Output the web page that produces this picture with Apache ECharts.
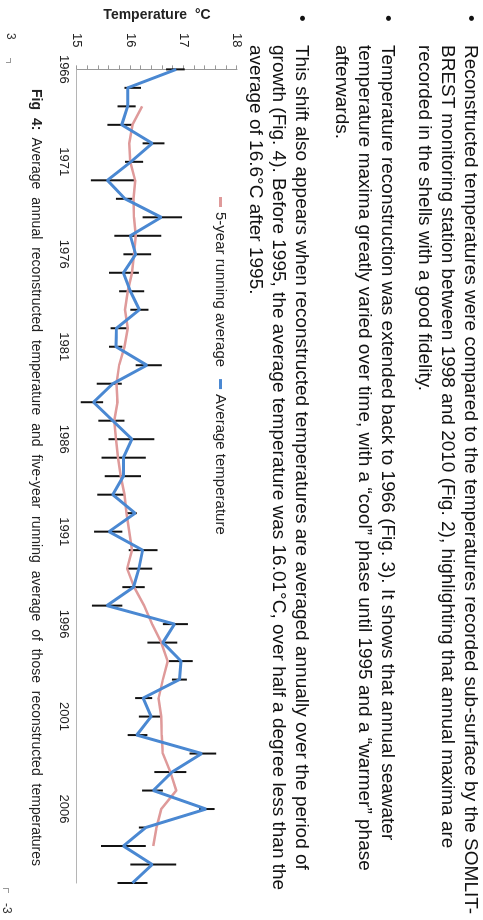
<!DOCTYPE html>
<html>
<head>
<meta charset="utf-8">
<script src="https://cdn.jsdelivr.net/npm/echarts@6/dist/echarts.min.js"></script>
<style>
html,body{margin:0;padding:0;width:483px;height:920px;overflow:hidden;background:#fff}
#page{position:absolute;left:0;top:0;width:920px;height:483px;transform-origin:0 0;transform:translate(483px,0) rotate(90deg);font-family:"Liberation Sans",Arial,Helvetica,sans-serif;color:#111;background:#fff}
#chart{position:absolute;left:0;top:0;width:920px;height:483px}
.para{position:absolute;left:45px;font-size:19px;line-height:23px;white-space:nowrap}
.bullet{position:absolute;left:-30px;top:0}
.cap{position:absolute;left:89px;top:438px;font-size:14px;line-height:16px;white-space:nowrap;word-spacing:4px;color:#222}
.pg{position:absolute;font-size:12px;line-height:14px;color:#333;white-space:nowrap}
.mark{position:absolute;background:#999}
</style>
</head>
<body>
<div id="page">
  <div id="chart"></div>
  <div class="para" style="top:0px"><span class="bullet">•</span>Reconstructed temperatures were compared to the temperatures recorded sub-surface by the SOMLIT-<br>BREST monitoring station between 1998 and 2010 (Fig. 2), highlighting that annual maxima are<br>recorded in the shells with a good fidelity.</div>
  <div class="para" style="top:83px"><span class="bullet">•</span>Temperature reconstruction was extended back to 1966 (Fig. 3). It shows that annual seawater<br>temperature maxima greatly varied over time, with a “cool” phase until 1995 and a “warmer” phase<br>afterwards.</div>
  <div class="para" style="top:169px"><span class="bullet">•</span>This shift also appears when reconstructed temperatures are averaged annually over the period of<br>growth (Fig. 4). Before 1995, the average temperature was 16.01°C, over half a degree less than the<br>average of 16.6°C after 1995.</div>
  <div class="cap"><b>Fig 4:</b> Average annual reconstructed temperature and five-year running average of those reconstructed temperatures</div>
  <div class="pg" style="left:33px;top:465px">3</div>
  <div class="mark" style="left:58px;top:472px;width:5px;height:1px"></div>
  <div class="mark" style="left:62px;top:472px;width:1px;height:5px"></div>
  <div class="pg" style="left:903px;top:469px">-3</div>
  <div class="mark" style="left:888px;top:474px;width:1px;height:6px"></div>
  <div class="mark" style="left:888px;top:474px;width:5px;height:1px"></div>
</div>
<script>
const years = ['1966','1967','1968','1969','1970','1971','1972','1973','1974','1975',
  '1976','1977','1978','1979','1980','1981','1982','1983','1984','1985',
  '1986','1987','1988','1989','1990','1991','1992','1993','1994','1995',
  '1996','1997','1998','1999','2000','2001','2002','2003','2004','2005',
  '2006','2007','2008','2009','2010'];

const avgTemp = [16.86,15.95,15.95,15.84,16.41,16.01,15.57,15.90,16.58,16.00,
  16.10,15.87,16.00,16.17,15.74,15.73,16.31,15.67,15.31,15.67,
  16.03,15.87,15.87,15.67,16.09,15.60,16.23,16.16,16.06,15.56,
  16.83,16.61,16.95,16.92,16.24,16.39,16.12,17.34,16.78,16.43,
  17.42,16.29,15.87,16.41,16.04];

const runAvg = ['-','-',16.22,16.04,15.98,16.00,16.09,16.06,16.07,16.10,
  16.07,16.03,15.95,15.90,15.95,15.89,15.79,15.74,15.76,15.70,
  15.73,15.77,15.82,15.89,15.93,15.98,16.03,15.94,16.07,16.26,
  16.41,16.58,16.70,16.61,16.53,16.58,16.59,16.61,16.75,16.86,
  16.58,16.49,16.43,'-','-'];

const errLow = [16.67,15.89,15.76,15.57,16.23,15.90,15.26,15.73,16.23,15.70,
  15.87,15.60,15.79,16.00,15.63,15.60,16.10,15.37,15.07,15.40,
  15.59,15.46,15.52,15.38,15.94,15.32,15.97,15.95,15.85,15.28,
  16.61,16.32,16.72,16.78,16.09,16.16,15.95,17.11,16.45,16.22,
  17.29,16.16,15.45,16.00,15.76];

const errHigh = [17.02,16.20,16.10,16.04,16.64,16.24,16.07,16.04,16.97,16.58,
  16.39,16.16,16.26,16.34,15.94,15.85,16.59,15.84,15.49,15.89,
  16.45,16.29,16.20,15.89,16.12,15.85,16.51,16.41,16.27,15.85,
  17.08,16.88,17.17,17.06,16.41,16.58,16.32,17.61,17.05,16.61,
  17.58,16.29,16.29,16.86,16.32];

const seriesNames = ['5-year running average', 'Average temperature'];
const axisTitle = 'Temperature  °C';

const errData = years.map((y, i) => [i, errLow[i], errHigh[i]]);

const chart = echarts.init(document.getElementById('chart'), null, {renderer: 'canvas'});
chart.setOption({
  animation: false,
  textStyle: {fontFamily: '"Liberation Sans", Arial, Helvetica, sans-serif'},
  grid: {left: 58, right: 37, top: 246, bottom: 77, containLabel: false},
  legend: {
    data: seriesNames,
    left: 197, top: 255, padding: 0,
    itemGap: 12, itemWidth: 10, itemHeight: 3, icon: 'rect',
    textStyle: {fontSize: 15, color: '#222'}
  },
  xAxis: {
    type: 'category', data: years, boundaryGap: false,
    axisLine: {lineStyle: {color: '#b5b5b5', width: 1.2}},
    axisTick: {show: false},
    axisLabel: {interval: 4, fontSize: 13, color: '#222', margin: 7},
    splitLine: {show: false}
  },
  yAxis: {
    type: 'value', min: 15, max: 18, interval: 1,
    name: axisTitle, nameLocation: 'middle', nameGap: 33, nameRotate: 90,
    nameTextStyle: {fontSize: 14, fontWeight: 'bold', color: '#222'},
    axisLine: {show: true, lineStyle: {color: '#999'}},
    axisTick: {show: true, length: 4, lineStyle: {color: '#999'}},
    minorTick: {show: true, splitNumber: 5, length: 4, lineStyle: {color: '#999'}},
    splitLine: {show: false},
    minorSplitLine: {show: false},
    axisLabel: {fontSize: 13, color: '#222', margin: 22}
  },
  series: [
    {
      type: 'custom', name: 'error', silent: true, z: 1,
      encode: {x: 0, y: [1, 2]},
      data: errData,
      renderItem: function (params, api) {
        const i = api.value(0);
        const p1 = api.coord([i, api.value(1)]);
        const p2 = api.coord([i, api.value(2)]);
        return {type: 'line', shape: {x1: p1[0], y1: p1[1], x2: p2[0], y2: p2[1]},
          style: {stroke: '#111', lineWidth: 2}};
      }
    },
    {
      type: 'line', name: seriesNames[0], data: runAvg, symbol: 'none', z: 2,
      lineStyle: {color: '#df9a9a', width: 2.5}, itemStyle: {color: '#df9a9a'}
    },
    {
      type: 'line', name: seriesNames[1], data: avgTemp, symbol: 'none', z: 3,
      lineStyle: {color: '#4a88d2', width: 3}, itemStyle: {color: '#4a88d2'}
    }
  ]
});
</script>
</body>
</html>
